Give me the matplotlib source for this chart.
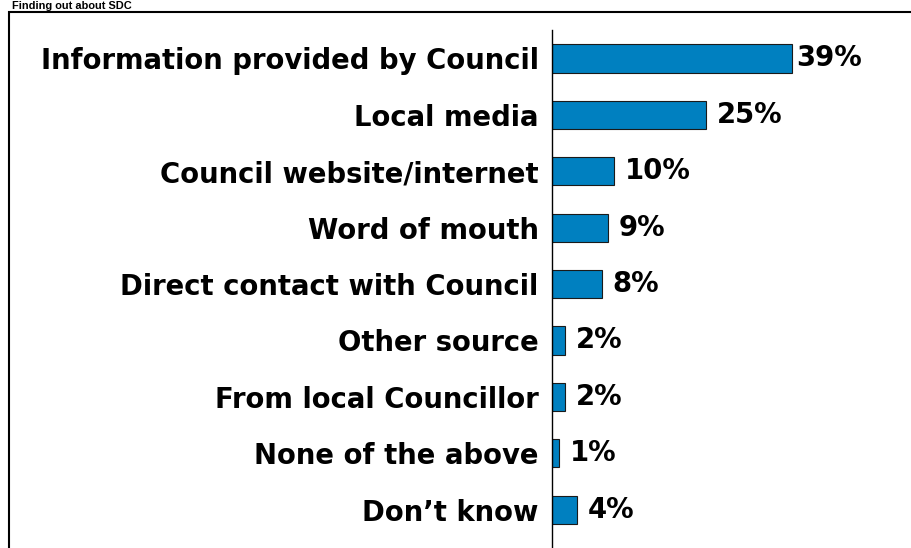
import matplotlib
matplotlib.use("Agg")
import matplotlib.pyplot as plt
from matplotlib.patches import Rectangle

categories = [
    "Information provided by Council",
    "Local media",
    "Council website/internet",
    "Word of mouth",
    "Direct contact with Council",
    "Other source",
    "From local Councillor",
    "None of the above",
    "Don\u2019t know",
]
values = [39, 25, 10, 9, 8, 2, 2, 1, 4]
value_labels = [f"{v}%" for v in values]
title = "Finding out about SDC"

W, H = 912, 548
fig = plt.figure(figsize=(W / 100, H / 100), dpi=100)

# panel frame (left and top edges visible)
frame = Rectangle((9 / W, -0.1), 1.2, 1 - 12 / H + 0.1, transform=fig.transFigure,
                  fill=False, edgecolor="black", linewidth=1.5, zorder=0)
fig.patches.append(frame)

fig.text(12 / W, 1 - 9 / H, title, ha="left", va="baseline",
         fontsize=7.9, fontweight="bold", family="Liberation Sans")

ax_left, ax_top = 552.5, 30
ax = fig.add_axes([ax_left / W, 0, (W - ax_left) / W, 1 - ax_top / H])
ax.set_xlim(0, (W - ax_left) / 6.15)
ax.set_ylim(8.68, -0.505)

ypos = list(range(len(categories)))
ax.barh(ypos, values, height=0.5, color="#0080C0", edgecolor="#1a1a1a",
        linewidth=0.8, zorder=2)

for sp in ["top", "right", "bottom"]:
    ax.spines[sp].set_visible(False)
ax.spines["left"].set_linewidth(1.0)
ax.spines["left"].set_color("black")
ax.set_xticks([])
ax.set_yticks(ypos)
ax.set_yticklabels(categories, fontsize=19.8, fontweight="bold",
                   family="DejaVu Sans")
ax.tick_params(axis="y", length=0, pad=10)

for y, v, lab in zip(ypos, values, value_labels):
    off = 4 if v == max(values) else 11
    ax.annotate(lab, (v, y), xytext=(off, 0), textcoords="offset pixels",
                ha="left", va="center", fontsize=19.8, fontweight="bold",
                family="DejaVu Sans")

fig.savefig("out.png", dpi=100)
